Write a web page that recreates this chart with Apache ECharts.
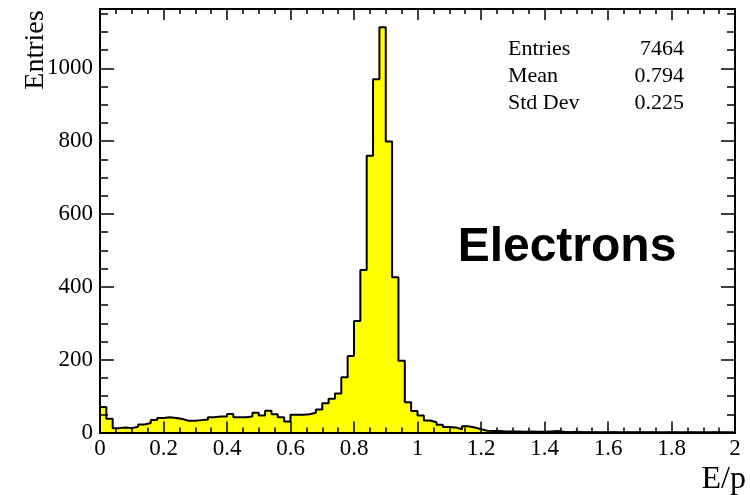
<!DOCTYPE html>
<html><head><meta charset="utf-8">
<script src="https://cdn.jsdelivr.net/npm/echarts@6/dist/echarts.min.js"></script>
<style>html,body{margin:0;padding:0;background:#fff}#c{width:750px;height:495px}</style>
</head><body><div id="c"></div>
<script>
// Histogram of E/p : 100 bins from 0 to 2
const binLow = 0;
const binWidth = 0.02;
const counts = [
  70, 38, 12, 14, 12, 16, 22, 26, 34, 40,   // 0.00 - 0.18
  42, 40, 37, 32, 32, 34, 36, 42, 44, 44,   // 0.20 - 0.38
  51, 42, 42, 44, 54, 47, 60, 50, 42, 30,   // 0.40 - 0.58
  49, 49, 50, 54, 63, 80, 93, 107, 152, 210, // 0.60 - 0.78
  306, 446, 760, 970, 1113, 799, 426, 197, 83, 59, // 0.80 - 0.98
  47, 33, 28, 21, 15, 14, 9, 17, 14, 9,     // 1.00 - 1.18
  5, 4, 4, 3, 3, 3, 2, 3, 2, 2,             // 1.20 - 1.38
  3, 4, 2, 1, 2, 1, 1, 1, 0, 1,             // 1.40 - 1.58
  1, 0, 1, 0, 1, 0, 1, 0, 0, 1,             // 1.60 - 1.78
  0, 0, 1, 0, 0, 0, 1, 0, 0, 0              // 1.80 - 1.98
];
const xMin = 0, xMax = 2, xMajor = 0.2, xMinor = 0.05;
const yMin = 0, yMax = 1163, yMajor = 200, yMinor = 50;
const statsLabels = ['Entries', 'Mean', 'Std Dev'];
const statsValues = ['7464', '0.794', '0.225'];
const xTitle = 'E/p';
const yTitle = 'Entries';
const tag = 'Electrons';

const pts = counts.map((v, i) => [+(binLow + i * binWidth).toFixed(4), v]);
pts.push([+(binLow + counts.length * binWidth).toFixed(4), counts[counts.length - 1]]);

const serif = 'Liberation Serif';
const tickStyle = { color: '#000', width: 1.5 };
function xAx(pos, interval, len, labels) {
  return {
    type: 'value', position: pos, min: xMin, max: xMax, interval: interval, z: 10,
    axisLine: { show: pos === 'bottom' && labels, onZero: false, lineStyle: { color: '#000', width: 2 } },
    axisTick: { show: true, inside: true, length: len, lineStyle: tickStyle },
    axisLabel: labels ? { show: true, fontFamily: serif, fontSize: 23, color: '#000', margin: 5 } : { show: false },
    splitLine: { show: false }
  };
}
function yAx(pos, interval, len, labels) {
  return {
    type: 'value', position: pos, min: yMin, max: yMax, interval: interval, z: 10,
    axisLine: { show: pos === 'left' && labels, onZero: false, lineStyle: { color: '#000', width: 2 } },
    axisTick: { show: true, inside: true, length: len, lineStyle: tickStyle },
    axisLabel: labels ? { show: true, fontFamily: serif, fontSize: 23, color: '#000', margin: 7,
      formatter: v => (v % yMajor === 0 ? String(v) : '') } : { show: false },
    splitLine: { show: false }
  };
}

const graphics = [
  { type: 'text', x: 36, y: 50, rotation: Math.PI / 2,
    style: { text: yTitle, fontFamily: serif, fontSize: 28, fill: '#000', align: 'center', verticalAlign: 'middle' } },
  { type: 'text', x: 746, y: 480,
    style: { text: xTitle, fontFamily: serif, fontSize: 32, fill: '#000', align: 'right', verticalAlign: 'middle' } },
  { type: 'text', x: 567, y: 248,
    style: { text: tag, fontFamily: 'Liberation Sans', fontWeight: 'bold', fontSize: 48, fill: '#000', align: 'center', verticalAlign: 'middle' } }
];
statsLabels.forEach((s, i) => {
  graphics.push({ type: 'text', x: 508, y: 49 + i * 27,
    style: { text: s, fontFamily: serif, fontSize: 22, fill: '#000', align: 'left', verticalAlign: 'middle' } });
  graphics.push({ type: 'text', x: 684, y: 49 + i * 27,
    style: { text: statsValues[i], fontFamily: serif, fontSize: 22, fill: '#000', align: 'right', verticalAlign: 'middle' } });
});

const chart = echarts.init(document.getElementById('c'), null, { renderer: 'canvas' });
chart.setOption({
  animation: false,
  backgroundColor: '#fff',
  grid: { left: 100, right: 15, top: 9, bottom: 62.5, show: true, borderColor: '#000', borderWidth: 2, backgroundColor: 'transparent' },
  xAxis: [xAx('bottom', xMajor, 11, true), xAx('bottom', xMinor, 5, false), xAx('top', xMajor, 11, false), xAx('top', xMinor, 5, false)],
  yAxis: [yAx('left', yMajor, 14, true), yAx('left', yMinor, 8, false), yAx('right', yMajor, 14, false), yAx('right', yMinor, 8, false)],
  series: [{
    type: 'line', xAxisIndex: 0, yAxisIndex: 0, data: pts, step: 'end',
    showSymbol: false, symbol: 'none',
    lineStyle: { color: '#000', width: 2 },
    areaStyle: { color: '#ffff00', opacity: 1 },
    z: 2
  }],
  graphic: graphics
});
</script>
</body></html>
